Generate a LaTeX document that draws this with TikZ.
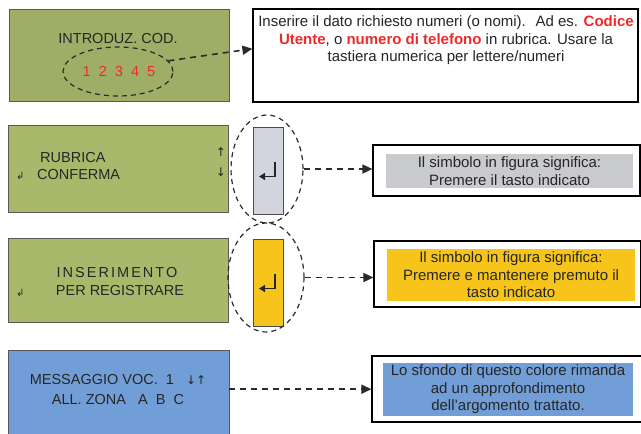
\documentclass[tikz,border=0pt]{standalone}
\usepackage{fontspec}
\setmainfont{Liberation Sans}
\newfontfamily\symfont{DejaVu Sans}
\usetikzlibrary{shapes.geometric,arrows.meta}

\definecolor{lcdolive}{HTML}{9FAE66}
\definecolor{lcdgreen}{HTML}{A9B96C}
\definecolor{keygray}{HTML}{D3D5DE}
\definecolor{keyyellow}{HTML}{F6C41A}
\definecolor{hintgray}{HTML}{C9CACD}
\definecolor{notablue}{HTML}{729ED8}
\definecolor{codred}{HTML}{EE2A2A}
\definecolor{inkgray}{HTML}{2A2A2A}

\newcommand{\evid}[1]{\textcolor{codred}{\textbf{#1}}}
\newcommand{\entersym}{{\symfont ↲}}

\begin{document}
\begin{tikzpicture}[x=1pt,y=-1pt,
  lcd/.style={draw=black!65,line width=0.8pt,minimum width=220,inner sep=0pt},
  lcdtext/.style={font=\fontsize{14.5}{17}\selectfont,text=black!85,inner sep=0pt},
  keycap/.style={draw=black!70,line width=0.8pt,minimum width=30,minimum height=87,inner sep=0pt},
  entermark/.style={draw=black!85,line width=1.8pt,-{Triangle[length=6pt,width=7pt]}},
  oval/.style={ellipse,draw=inkgray,dashed,dash pattern=on 5pt off 4pt,line width=1.2pt,inner sep=0pt},
  infobox/.style={draw=black,line width=1.2pt,fill=white,inner sep=0pt},
  infofill/.style={inner sep=0pt,align=center,font=\fontsize{15}{17.5}\selectfont,text=black!85},
  dasharrow/.style={draw=inkgray,line width=1.6pt,dash pattern=on 6pt off 5pt,-{Triangle[length=10pt,width=9pt]}}]

  \useasboundingbox (0,0) rectangle (641,434);

  % row 1: code entry
  \node[lcd,fill=lcdolive,minimum height=92] (lcdcod) at (119,55) {};
  \node[lcdtext] (cod) at (118,39) {INTRODUZ. COD.};
  \node[lcdtext,text=codred] (digits) at (119,72) {1~~2~~3~~4~~5};
  \node[oval,minimum width=110,minimum height=49] (ovcod) at (118,71.5) {};
  \node[infobox,minimum width=385,minimum height=93] (infocod) at (445.5,55.5) {};
  \node[infofill,anchor=north] (txtcod) at (446,15.5) {Inserire il dato richiesto numeri (o nomi).~ Ad es. \evid{Codice}\\
    \evid{Utente}, o \evid{numero di telefono} in rubrica. Usare la\\
    tastiera numerica per lettere/numeri};

  % row 2: confirm key
  \node[lcd,fill=lcdgreen,minimum height=87] (lcdrub) at (118.5,168.5) {};
  \node[lcdtext,anchor=base west] (rub) at (40,162) {RUBRICA};
  \node[lcdtext,anchor=base west] (conf) at (37,179) {CONFERMA};
  \node[lcdtext,anchor=base west,font=\fontsize{10}{10}\selectfont] (enrub) at (16,179) {\entersym};
  \node[lcdtext,font=\fontsize{12}{12}\selectfont\symfont] (up) at (221,152) {↑};
  \node[lcdtext,font=\fontsize{12}{12}\selectfont\symfont] (down) at (221,172) {↓};
  \node[keycap,fill=keygray] (keyrub) at (268,170.5) {};
  \draw[entermark] ([shift={(7,-9)}]keyrub.center) -- ([shift={(7,6)}]keyrub.center) -- ([shift={(-9,6)}]keyrub.center);
  \node[oval,minimum width=72,minimum height=108] (ovrub) at (267,169) {};
  \node[infobox,minimum width=267,minimum height=51] (inforub) at (506.5,170.5) {};
  \node[infofill,fill=hintgray,minimum width=247,minimum height=34] (txtrub) at (509.5,171) {Il simbolo in figura significa:\\ Premere il tasto indicato};

  % row 3: hold key
  \node[lcd,fill=lcdgreen,minimum height=84] (lcdins) at (118.5,280) {};
  \node[lcdtext] (ins) at (117,273) {\addfontfeature{LetterSpace=14}INSERIMENTO};
  \node[lcdtext] (reg) at (120,291) {PER REGISTRARE};
  \node[lcdtext,anchor=base west,font=\fontsize{10}{10}\selectfont] (enins) at (16,296) {\entersym};
  \node[keycap,fill=keyyellow] (keyins) at (268,282.5) {};
  \draw[entermark] ([shift={(7,-9)}]keyins.center) -- ([shift={(7,6)}]keyins.center) -- ([shift={(-9,6)}]keyins.center);
  \node[oval,minimum width=76,minimum height=109] (ovins) at (266,277.5) {};
  \node[infobox,minimum width=267,minimum height=66] (infoins) at (507.5,274) {};
  \node[infofill,fill=keyyellow,minimum width=248,minimum height=52] (txtins) at (511,275) {Il simbolo in figura significa:\\ Premere e mantenere premuto il\\ tasto indicato};

  % row 4: further reading
  \node[lcd,fill=notablue,minimum width=221,minimum height=90] (lcdmsg) at (118.5,395) {};
  \node[lcdtext] (msg) at (118,380) {MESSAGGIO VOC.~~1~~~{\symfont\fontsize{12}{12}\selectfont↓↑}};
  \node[lcdtext] (zona) at (118,400) {ALL. ZONA~~~A~~B~~C};
  \node[infobox,minimum width=270,minimum height=66] (infomsg) at (507,389) {};
  \node[infofill,fill=notablue,minimum width=250,minimum height=53] (txtmsg) at (508,389.5) {Lo sfondo di questo colore rimanda\\ ad un approfondimento\\ dell'argomento trattato.};

  \draw[dasharrow] (ovcod.12) -- (infocod.178);
  \draw[dasharrow] (ovrub.east) -- (ovrub.east -| inforub.west);
  \draw[dasharrow] (ovins.east) -- (ovins.east -| infoins.west);
  \draw[dasharrow] (lcdmsg.3) -- (lcdmsg.3 -| infomsg.west);
\end{tikzpicture}
\end{document}
